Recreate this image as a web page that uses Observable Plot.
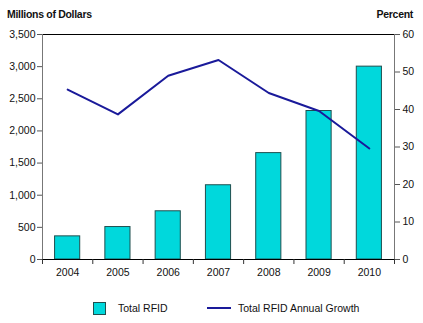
<!DOCTYPE html>
<html><head><meta charset="utf-8">
<script src="https://cdn.jsdelivr.net/npm/d3@7"></script>
<script src="https://cdn.jsdelivr.net/npm/@observablehq/plot@0.6"></script>
<style>
body{margin:0;background:#fff;font-family:"Liberation Sans",Arial,sans-serif;}
#wrap{position:relative;width:423px;height:323px;overflow:hidden;}
#wrap svg{position:absolute;left:0;top:0;}
.t{position:absolute;font-size:10.5px;color:#111;white-space:nowrap;line-height:12px;}
.b{font-weight:bold;letter-spacing:-0.3px;}
.sq{position:absolute;left:93px;top:302px;width:11px;height:11px;background:#00d8dc;border:1px solid #1f4f4f;}
.ln{position:absolute;left:207px;top:307px;width:24px;height:2px;background:#1a1a9a;}
</style></head><body><div id="wrap"></div>
<script>
const years = [2004, 2005, 2006, 2007, 2008, 2009, 2010];
const revenue = [360, 505, 750, 1155, 1655, 2310, 3000];
const growth = [45.3, 38.7, 49.0, 53.2, 44.4, 39.6, 29.6];
const leftTicks = [0, 500, 1000, 1500, 2000, 2500, 3000, 3500];
const rightTicks = [0, 10, 20, 30, 40, 50, 60];
const yMax = 3500, pMax = 60;
const toY = p => p * yMax / pMax;
const data = years.map((year, i) => ({year, revenue: revenue[i], growth: growth[i]}));
const boundaries = years.map(y => y - 0.5).concat([years[years.length - 1] + 0.5]);

const chart = Plot.plot({
  width: 423, height: 323,
  marginLeft: 42, marginRight: 29, marginTop: 34, marginBottom: 64,
  style: {fontFamily: "Liberation Sans, Arial, sans-serif", fontSize: "10.5px", background: "white", color: "#111"},
  x: {type: "linear", domain: [boundaries[0], boundaries[boundaries.length - 1]]},
  y: {domain: [0, yMax]},
  marks: [
    Plot.rectY(data, {x1: d => d.year - 0.25, x2: d => d.year + 0.25, y: "revenue", fill: "#00d8dc", stroke: "#1f4f4f", strokeWidth: 1}),
    Plot.line(data, {x: "year", y: d => toY(d.growth), stroke: "#1a1a9a", strokeWidth: 2}),
    Plot.ruleY([yMax], {stroke: "#000"}),
    Plot.ruleY([0], {stroke: "#000"}),
    Plot.ruleX([boundaries[0]], {stroke: "#777"}),
    Plot.ruleX([boundaries[boundaries.length - 1]], {stroke: "#777"}),
    Plot.axisY({anchor: "left", ticks: leftTicks, tickFormat: d3.format(","), tickSize: 5, tickPadding: 2, label: null, stroke: "#555"}),
    Plot.axisY({anchor: "right", ticks: rightTicks.map(toY), tickFormat: v => String(Math.round(v * pMax / yMax)), tickSize: 5, tickPadding: 3, label: null, stroke: "#555"}),
    Plot.axisX({ticks: boundaries, tickFormat: () => "", tickSize: 5, label: null, stroke: "#333"}),
    Plot.axisX({ticks: years, tickFormat: d => String(d), tickSize: 0, tickPadding: 9, label: null})
  ]
});
const wrap = document.getElementById("wrap");
wrap.appendChild(chart);
const add = (html, cls, style) => { const e = document.createElement("div"); e.className = cls; e.setAttribute("style", style); e.textContent = html; wrap.appendChild(e); };
add("Millions of Dollars", "t b", "left:7px;top:8px;");
add("Percent", "t b", "right:10px;top:8px;");
const sq = document.createElement("div"); sq.className = "sq"; wrap.appendChild(sq);
add("Total RFID", "t", "left:118px;top:302px;");
const ln = document.createElement("div"); ln.className = "ln"; wrap.appendChild(ln);
add("Total RFID Annual Growth", "t", "left:238px;top:302px;");
</script></body></html>
